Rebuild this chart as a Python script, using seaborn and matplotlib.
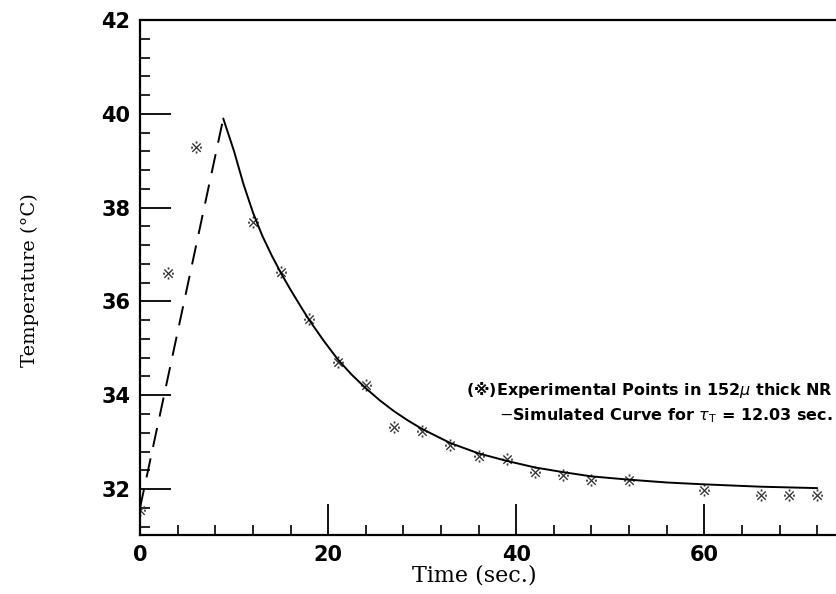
import numpy as np
import pandas as pd
import matplotlib
matplotlib.use('Agg')
import matplotlib.pyplot as plt
import seaborn as sns
from matplotlib.ticker import MultipleLocator

# 실험점 (시간, 온도)
exp_time = [0, 3, 6, 12, 15, 18, 21, 24, 27, 30, 33, 36, 39, 42, 45, 48, 52, 60, 66, 69, 72]
exp_temp = [31.55, 36.6, 39.3, 37.7, 36.62, 35.62, 34.71, 34.22, 33.33, 33.24, 32.93,
            32.71, 32.64, 32.36, 32.31, 32.2, 32.2, 31.99, 31.88, 31.88, 31.88]

# 가열 구간 (점선)
heat_time = [0, 8.85]
heat_temp = [31.6, 39.9]

# 냉각 시뮬레이션 곡선 (실선)
sim_time = [8.85, 10, 11, 12, 13, 14, 15, 16, 17, 18, 19.5, 21, 22.5, 24, 25.5, 27,
            28.5, 30, 33, 36, 39, 42, 45, 48, 52, 56, 60, 66, 72]
sim_temp = [39.9, 39.2, 38.5, 37.9, 37.4, 36.98, 36.6, 36.25, 35.92, 35.6, 35.17, 34.77,
            34.44, 34.15, 33.89, 33.66, 33.46, 33.28, 32.98, 32.76, 32.6, 32.46, 32.36,
            32.27, 32.2, 32.14, 32.1, 32.05, 32.02]

df_exp = pd.DataFrame({'time': exp_time, 'temp': exp_temp})
df_heat = pd.DataFrame({'time': heat_time, 'temp': heat_temp})
df_sim = pd.DataFrame({'time': sim_time, 'temp': sim_temp})

sns.set_style('ticks')
plt.rcParams['text.color'] = 'black'
plt.rcParams['axes.labelcolor'] = 'black'
plt.rcParams['xtick.color'] = 'black'
plt.rcParams['ytick.color'] = 'black'
plt.rcParams['axes.edgecolor'] = 'black'

fig = plt.figure(figsize=(8.36, 5.94), dpi=100)
ax = fig.add_axes([0.1675, 0.0993, 0.8325, 0.867])

sns.lineplot(data=df_heat, x='time', y='temp', ax=ax, color='black', lw=1.4,
             linestyle=(0, (10, 6)))
sns.lineplot(data=df_sim, x='time', y='temp', ax=ax, color='black', lw=1.4)
sns.scatterplot(data=df_exp, x='time', y='temp', ax=ax, marker='$※$', s=75,
                color='0.2', linewidth=0)

ax.set_xlim(0, 74)
ax.set_ylim(31.02, 42)
ax.xaxis.set_major_locator(MultipleLocator(20))
ax.xaxis.set_minor_locator(MultipleLocator(4))
ax.yaxis.set_major_locator(MultipleLocator(2))
ax.yaxis.set_minor_locator(MultipleLocator(0.4))
ax.tick_params(which='major', direction='in', length=22, width=1.3,
               labelsize=15, pad=7)
ax.tick_params(which='minor', direction='in', length=7, width=1.2)
for lab in ax.get_xticklabels() + ax.get_yticklabels():
    lab.set_fontweight('bold')
    lab.set_family('DejaVu Sans')

ax.spines['right'].set_visible(False)
for s in ['left', 'bottom', 'top']:
    ax.spines[s].set_linewidth(1.6)

ax.set_xlabel('Time (sec.)', family='DejaVu Serif', fontsize=16)
ax.xaxis.set_label_coords(0.48, -0.058)
ax.set_ylabel('Temperature (°C)', family='DejaVu Serif', fontsize=14)
ax.yaxis.set_label_coords(-0.145, 0.495)

ax.text(0.995, 0.282, '(※)Experimental Points in 152$\\mu$ thick NR',
        transform=ax.transAxes, ha='right', va='center', fontsize=11.5,
        fontweight='bold', family='DejaVu Sans')
ax.text(0.995, 0.231, '$-$Simulated Curve for $\\tau_{\\mathrm{T}}$ = 12.03 sec.',
        transform=ax.transAxes, ha='right', va='center', fontsize=11.5,
        fontweight='bold', family='DejaVu Sans')

fig.savefig('out.png', dpi=100)
